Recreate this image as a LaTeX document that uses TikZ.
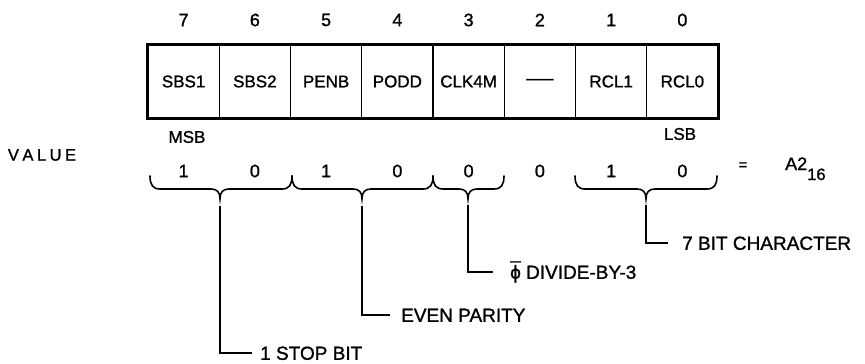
\documentclass[tikz,border=0pt]{standalone}
\usepackage{fontspec}
\setmainfont{Liberation Sans}[FakeBold=1.2]
\newcommand\mybrace[3]{%
  \draw[bracestyle] (#1,176) .. controls (#1,185) and ({#1+3},189) .. ({#1+10},189)
    -- ({#2-9},189) .. controls ({#2-3},189) and (#2,192) .. (#2,199)
    .. controls (#2,192) and ({#2+3},189) .. ({#2+9},189)
    -- ({#3-10},189) .. controls ({#3-3},189) and (#3,185) .. (#3,176);}
\begin{document}
\begin{tikzpicture}[x=1pt,y=-1pt,
  cell/.style={draw,line width=1.2pt,minimum width=71.25pt,minimum height=73pt,inner sep=0pt,font=\fontsize{17}{17}\selectfont},
  bitnum/.style={inner sep=0pt,font=\fontsize{18}{18}\selectfont},
  valdig/.style={inner sep=0pt,font=\fontsize{18}{18}\selectfont},
  side/.style={inner sep=0pt,font=\fontsize{17}{17}\selectfont},
  lbl/.style={anchor=west,inner ysep=0pt,text height=13.6pt,text depth=0pt,font=\fontsize{19}{19}\selectfont},
  bracestyle/.style={line width=1.6pt,line cap=round},
  leader/.style={line width=1.6pt}]
\useasboundingbox (0,0) rectangle (865,364);
% register cells
\node[cell] (c7) at (183.625,81.5) {SBS1};
\node[cell] (c6) at (254.875,81.5) {SBS2};
\node[cell] (c5) at (326.125,81.5) {PENB};
\node[cell] (c4) at (397.375,81.5) {PODD};
\node[cell] (c3) at (468.625,81.5) {CLK4M};
\node[cell] (c2) at (539.875,81.5) {\scalebox{1.6}[1]{—}};
\node[cell] (c1) at (611.125,81.5) {RCL1};
\node[cell] (c0) at (682.375,81.5) {RCL0};
\draw[line width=2.6pt] (c7.north west) rectangle (c0.south east);
% bit numbers
\node[bitnum] (n7) at (183.625,20) {7};
\node[bitnum] (n6) at (254.875,20) {6};
\node[bitnum] (n5) at (326.125,20) {5};
\node[bitnum] (n4) at (397.375,20) {4};
\node[bitnum] (n3) at (468.625,20) {3};
\node[bitnum] (n2) at (539.875,20) {2};
\node[bitnum] (n1) at (611.125,20) {1};
\node[bitnum] (n0) at (682.375,20) {0};
% MSB / LSB / VALUE
\node[side] (msb) at (187,137) {MSB};
\node[side] (lsb) at (680,134) {LSB};
\node[side,font=\fontsize{16.5}{16.5}\selectfont] (value) at (42,155) {V\kern3.5pt A\kern3.5pt L\kern3.5pt U\kern3.5pt E};
% value digits
\node[valdig] (v7) at (183.625,171) {1};
\node[valdig] (v6) at (254.875,171) {0};
\node[valdig] (v5) at (326.125,171) {1};
\node[valdig] (v4) at (397.375,171) {0};
\node[valdig] (v3) at (468.625,171) {0};
\node[valdig] (v2) at (539.875,171) {0};
\node[valdig] (v1) at (611.125,171) {1};
\node[valdig] (v0) at (682.375,171) {0};
\node[inner sep=0pt,font=\fontsize{15}{15}\selectfont] (eq) at (743,166) {=};
\node[anchor=base west,inner sep=0pt,font=\fontsize{18}{18}\selectfont] (hex) at (785,170) {A2\raisebox{-10pt}{\fontsize{16.5}{16.5}\selectfont 16}};
% braces
\mybrace{150}{220}{292}
\mybrace{292}{362}{433}
\mybrace{433}{468}{504}
\mybrace{575}{646}{717}
% tips
\coordinate (tA) at (220,206);
\coordinate (tB) at (362,206);
\coordinate (tC) at (468,205);
\coordinate (tD) at (646,205);
% labels
\node[lbl,inner xsep=8pt] (lA) at (252,353) {1 STOP BIT};
\node[lbl,inner xsep=11pt] (lB) at (390,315) {EVEN PARITY};
\node[lbl,inner xsep=17pt] (lC) at (493,272) {\accent"00AF ϕ DIVIDE-BY-3};
\node[lbl,inner xsep=14pt] (lD) at (668,243) {7 BIT CHARACTER};
\draw[leader] (tA) |- (lA.west);
\draw[leader] (tB) |- (lB.west);
\draw[leader] (tC) |- (lC.west);
\draw[leader] (tD) |- (lD.west);
\end{tikzpicture}
\end{document}
